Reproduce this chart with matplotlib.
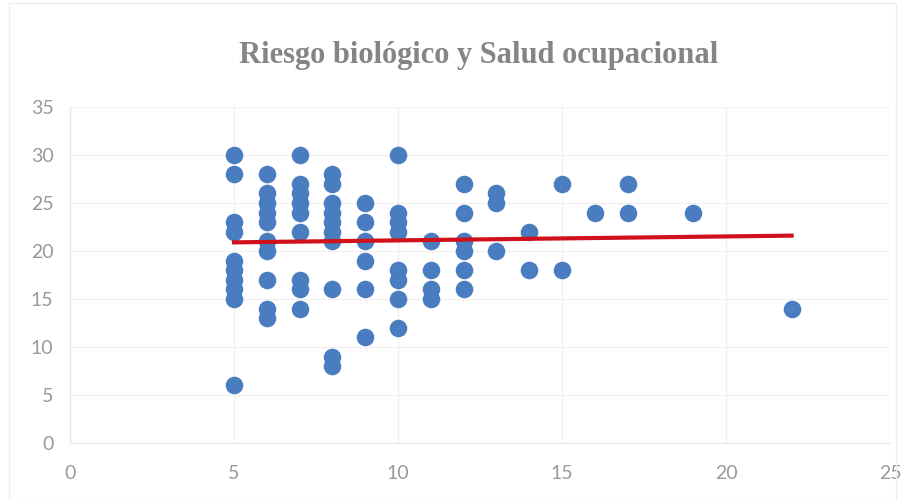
import matplotlib.pyplot as plt
import numpy as np

# Valores (x = riesgo biológico, y = salud ocupacional)
riesgo = [5, 5, 5, 5, 5, 5, 5, 5, 5, 5,
          6, 6, 6, 6, 6, 6, 6, 6, 6, 6,
          7, 7, 7, 7, 7, 7, 7, 7, 7,
          8, 8, 8, 8, 8, 8, 8, 8, 8, 8,
          9, 9, 9, 9, 9, 9,
          10, 10, 10, 10, 10, 10, 10, 10,
          11, 11, 11, 11,
          12, 12, 12, 12, 12, 12,
          13, 13, 13,
          14, 14,
          15, 15,
          16,
          17, 17,
          19,
          22]
salud = [30, 28, 23, 22, 19, 18, 17, 16, 15, 6,
         28, 26, 25, 24, 23, 21, 20, 17, 14, 13,
         30, 27, 26, 25, 24, 22, 17, 16, 14,
         28, 27, 25, 24, 23, 22, 21, 16, 9, 8,
         25, 23, 21, 19, 16, 11,
         30, 24, 23, 22, 18, 17, 15, 12,
         21, 18, 16, 15,
         27, 24, 21, 20, 18, 16,
         26, 25, 20,
         22, 18,
         27, 18,
         24,
         27, 24,
         24,
         14]

# Línea de tendencia (extremos)
tend_x = [5, 22]
tend_y = [20.9, 21.6]

plt.rcParams["font.family"] = ["Lato", "DejaVu Sans"]

fig = plt.figure(figsize=(9.1, 5), dpi=100)
ax = fig.add_axes([0.077, 0.114, 0.901, 0.672])

ax.scatter(riesgo, salud, s=160, color="#4A7DBF", zorder=3, linewidths=0)
ax.plot(tend_x, tend_y, color="#D0101A", linewidth=3, zorder=4)

ax.set_xlim(0, 25)
ax.set_ylim(0, 35)
ax.set_xticks(np.arange(0, 26, 5))
ax.set_yticks(np.arange(0, 36, 5))
ax.grid(True, color="#F0F0F0", linewidth=1, zorder=0)
ax.set_axisbelow(True)
for side in ["top", "right"]:
    ax.spines[side].set_visible(False)
for side in ["left", "bottom"]:
    ax.spines[side].set_color("#E6E6E6")
ax.tick_params(length=0, labelsize=14, colors="#999999")
ax.tick_params(axis="x", pad=16)
ax.tick_params(axis="y", pad=12)

fig.text(0.526, 0.89, "Riesgo biológico y Salud ocupacional",
         ha="center", va="center", fontsize=22, fontweight="bold",
         family="Liberation Serif", color="#858585")

# borde del área del gráfico
fig.patches.append(plt.Rectangle((0.01, 0.0), 0.975, 0.995, transform=fig.transFigure,
                                 fill=False, edgecolor="#EEEEEE", linewidth=1))

fig.savefig("out.png", dpi=100)
